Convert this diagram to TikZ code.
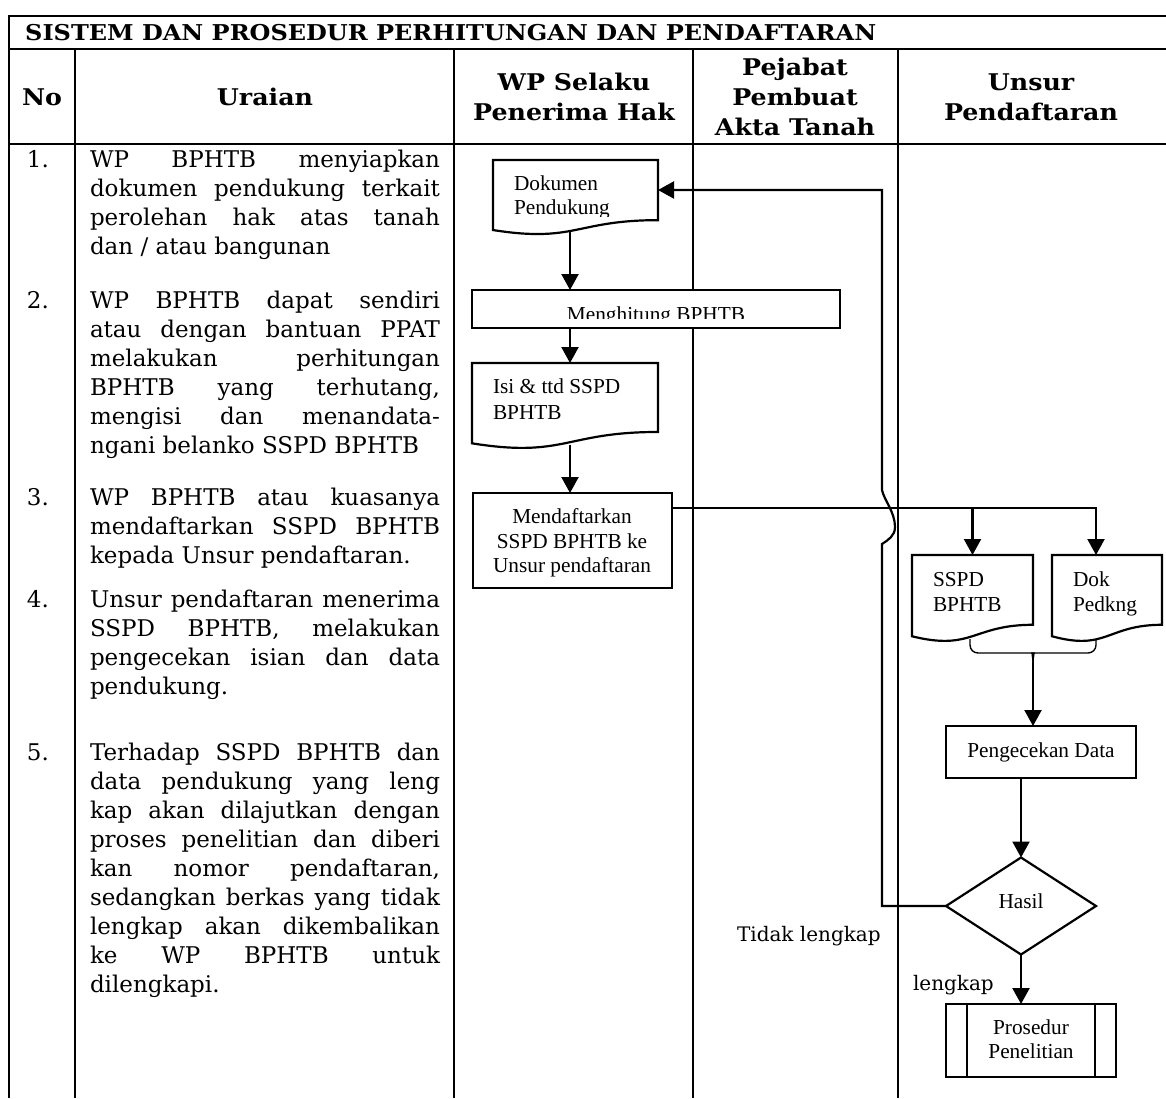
\documentclass[tikz,border=0pt]{standalone}
\usepackage{fontspec}
\setmainfont{DejaVu Serif}
\newfontfamily\widefont[FakeStretch=1.1]{DejaVu Serif}
\newfontfamily\tms{Liberation Serif}
\usetikzlibrary{arrows.meta,shapes.geometric,calc}

% fonts: wide serif for the table text, Times-like flowchart labels
\newcommand\bodyfont{\fontsize{23}{29}\selectfont}
\newcommand\labelfont{\fontsize{20}{26}\selectfont}
\newcommand\flowfont{\tms\fontsize{21.3}{25}\selectfont}
% justified line of fixed width, and a free last line
\newcommand\jl[1]{\makebox[350pt][s]{#1}\par}
\newcommand\lastl[1]{#1\par}

\tikzset{
  grid/.style={line width=2.2pt},
  conn/.style={line width=2.2pt, -{Triangle[length=16pt,width=17pt]}},
  bracel/.style={line width=1.4pt},
  box/.style={draw, line width=2.2pt, fill=white, rectangle, inner sep=0pt, outer sep=0pt},
  docnode/.style={inner sep=0pt, outer sep=0pt},
  ftext/.style={inner sep=0pt, outer sep=0pt, font=\flowfont},
  btext/.style={inner sep=0pt, outer sep=0pt, font=\bodyfont},
  ltext/.style={inner sep=0pt, outer sep=0pt, font=\labelfont},
  htext/.style={inner sep=0pt, outer sep=0pt, font=\widefont\fontsize{23}{30}\selectfont\bfseries},
}

% document symbol with wavy bottom edge, drawn over a named node
\newcommand\docshape[1]{%
  \draw[line width=2.2pt, fill=white] (#1.north west) -- (#1.north east)
    -- ($(#1.north east)!0.802!(#1.south east)$)
    .. controls ($(#1.north)!0.802!(#1.south)$) and ($(#1.north)!1.107!(#1.south)$)
    .. ($(#1.north west)!0.934!(#1.south west)$) -- cycle;}

\begin{document}
\begin{tikzpicture}[x=1pt, y=-1pt]
\useasboundingbox (0,0) rectangle (1166,1098);

% ---------- table frame ----------
\draw[grid] (9,16) -- (1166,16);
\draw[grid] (9,49) -- (1166,49);
\draw[grid] (9,144) -- (1166,144);
\draw[grid] (9,15) -- (9,1098);
\foreach \xx in {75,454,693,898} \draw[grid] (\xx,49) -- (\xx,1098);

\node[inner sep=0pt, anchor=base west, font=\widefont\fontsize{21.8}{26}\selectfont\bfseries] (title) at (25,40)
  {SISTEM DAN PROSEDUR PERHITUNGAN DAN PENDAFTARAN};

\node[htext, anchor=base] (hno) at (42,105) {No};
\node[htext, anchor=base] (hur) at (265,105) {Uraian};
\node[htext, anchor=base] (hwp1) at (574,90) {WP Selaku};
\node[htext, anchor=base] (hwp2) at (574,120) {Penerima Hak};
\node[htext, anchor=base] (hpj1) at (795,75) {Pejabat};
\node[htext, anchor=base] (hpj2) at (795,105) {Pembuat};
\node[htext, anchor=base] (hpj3) at (795,135) {Akta Tanah};
\node[htext, anchor=base] (hun1) at (1031,90) {Unsur};
\node[htext, anchor=base] (hun2) at (1031,120) {Pendaftaran};

% ---------- numbered steps ----------
\node[btext, anchor=base west] (n1) at (27,167) {1.};
\node[btext, anchor=base west] (n2) at (27,308) {2.};
\node[btext, anchor=base west] (n3) at (27,505) {3.};
\node[btext, anchor=base west] (n4) at (27,607) {4.};
\node[btext, anchor=base west] (n5) at (27,760) {5.};

\node[btext, anchor=base west] (u1) at (90,167) {\parbox[t]{350pt}{\bodyfont
  \jl{WP BPHTB menyiapkan}
  \jl{dokumen pendukung terkait}
  \jl{perolehan hak atas tanah}
  \lastl{dan / atau bangunan}}};
\node[btext, anchor=base west] (u2) at (90,308) {\parbox[t]{350pt}{\bodyfont
  \jl{WP BPHTB dapat sendiri}
  \jl{atau dengan bantuan PPAT}
  \jl{melakukan perhitungan}
  \jl{BPHTB yang terhutang,}
  \jl{mengisi dan menandata-}
  \lastl{ngani belanko SSPD BPHTB}}};
\node[btext, anchor=base west] (u3) at (90,505) {\parbox[t]{350pt}{\bodyfont
  \jl{WP BPHTB atau kuasanya}
  \jl{mendaftarkan SSPD BPHTB}
  \lastl{kepada Unsur pendaftaran.}}};
\node[btext, anchor=base west] (u4) at (90,607) {\parbox[t]{350pt}{\bodyfont
  \jl{Unsur pendaftaran menerima}
  \jl{SSPD BPHTB, melakukan}
  \jl{pengecekan isian dan data}
  \lastl{pendukung.}}};
\node[btext, anchor=base west] (u5) at (90,760) {\parbox[t]{350pt}{\bodyfont
  \jl{Terhadap SSPD BPHTB dan}
  \jl{data pendukung yang leng}
  \jl{kap akan dilajutkan dengan}
  \jl{proses penelitian dan diberi}
  \jl{kan nomor pendaftaran,}
  \jl{sedangkan berkas yang tidak}
  \jl{lengkap akan dikembalikan}
  \jl{ke WP BPHTB untuk}
  \lastl{dilengkapi.}}};

% ---------- flowchart shapes ----------
\node[docnode, minimum width=165pt, minimum height=75pt] (dok) at (575.5,197.5) {};
\docshape{dok}
\node[box, minimum width=368pt, minimum height=38pt] (hit) at (656,309) {};
\node[docnode, minimum width=186pt, minimum height=86pt] (isi) at (565,406) {};
\docshape{isi}
\node[box, minimum width=199pt, minimum height=95pt] (mend) at (572.5,540.5) {};
\node[docnode, minimum width=121pt, minimum height=87pt] (sspd) at (972.5,598.5) {};
\docshape{sspd}
\node[docnode, minimum width=110pt, minimum height=87pt] (dokp) at (1107,598.5) {};
\docshape{dokp}
\node[box, minimum width=190pt, minimum height=52pt] (cek) at (1041,752) {};
\node[diamond, draw, line width=2.2pt, fill=white, aspect=1.546, minimum width=150pt,
  minimum height=97pt, inner sep=0pt, outer sep=0pt] (hasil) at (1021,906) {};
\node[box, minimum width=170pt, minimum height=73pt] (pros) at (1031,1040.5) {};
\draw[line width=1.3pt] ($(pros.north west)+(21,0)$) -- ($(pros.south west)+(21,0)$);
\draw[line width=1.3pt] ($(pros.north east)+(-21,0)$) -- ($(pros.south east)+(-21,0)$);

% ---------- shape labels ----------
\node[ftext, anchor=base west] (dokt1) at (514,190) {Dokumen};
\begin{scope}
  \clip (480,170) rectangle (660,216);
  \node[ftext, anchor=base west] (dokt2) at (514,214) {Pendukung};
\end{scope}
\begin{scope}
  \clip (475,292) rectangle (838,318);
  \node[ftext, anchor=base] (hitt) at (656,321) {Menghitung BPHTB};
\end{scope}
\node[ftext, anchor=base west] (isit1) at (493,393) {Isi \& ttd SSPD};
\node[ftext, anchor=base west] (isit2) at (493,419) {BPHTB};
\node[ftext, anchor=base] (mendt1) at (572,523) {Mendaftarkan};
\node[ftext, anchor=base] (mendt2) at (572,548) {SSPD BPHTB ke};
\node[ftext, anchor=base] (mendt3) at (572,572) {Unsur pendaftaran};
\node[ftext, anchor=base west] (sspdt1) at (933,586) {SSPD};
\node[ftext, anchor=base west] (sspdt2) at (933,611) {BPHTB};
\node[ftext, anchor=base west] (dokpt1) at (1073,586) {Dok};
\node[ftext, anchor=base west] (dokpt2) at (1073,611) {Pedkng};
\node[ftext, anchor=base] (cekt) at (1041,757) {Pengecekan Data};
\node[ftext, anchor=base] (hasilt) at (1021,908) {Hasil};
\node[ftext, anchor=base] (prost1) at (1031,1034) {Prosedur};
\node[ftext, anchor=base] (prost2) at (1031,1058) {Penelitian};

\node[ltext, anchor=base west] (tidak) at (737,941) {Tidak lengkap};
\node[ltext, anchor=base west] (lengkap) at (913,990) {lengkap};

% ---------- connectors ----------
\coordinate (axA) at (570,0);
\coordinate (dokB) at ($(dok.north)!0.94!(dok.south)$);
\coordinate (isiB) at ($(isi.north)!0.95!(isi.south)$);
\draw[conn] (dokB -| axA) -- (hit.north -| axA);
\draw[conn] (hit.south -| axA) -- (isi.north -| axA);
\draw[conn] (isiB -| axA) -- (mend.north -| axA);

\coordinate (jr) at (1096,508);
\draw[conn] (mend.east |- jr) -| (dokp.north -| jr);
\draw[conn] (sspd.north |- jr) -- (sspd.north);

% two documents merged by a brace into one flow
\coordinate (bl) at (970,639);
\coordinate (br) at (1096,639);
\coordinate (bc) at (1033,662);
\draw[bracel] (bl) [rounded corners=8pt] |- ($(bc)+(-8,-9)$) [sharp corners]
  .. controls ($(bc)+(-2,-9)$) and ($(bc)+(0,-6)$) .. (bc);
\draw[bracel] (br) [rounded corners=8pt] |- ($(bc)+(8,-9)$) [sharp corners]
  .. controls ($(bc)+(2,-9)$) and ($(bc)+(0,-6)$) .. (bc);
\draw[conn] (bc) -- (cek.north -| bc);

\draw[conn] (cek.south -| hasil.north) -- (hasil.north);
\draw[conn] (hasil.south) -- (pros.north -| hasil.south);

% return path for incomplete files, hopping over the registration line
\coordinate (lx) at (882,190);
\draw[conn] (hasil.west) -- (hasil.west -| lx) -- ($(lx)+(0,354)$)
  .. controls ($(lx)+(6,350)$) and ($(lx)+(13,346)$) .. ($(lx)+(13,337)$)
  .. controls ($(lx)+(13,322)$) and ($(lx)+(2,310)$) .. ($(lx)+(0,300)$)
  -- (lx) -- (dok.east |- lx);
\end{tikzpicture}
\end{document}
